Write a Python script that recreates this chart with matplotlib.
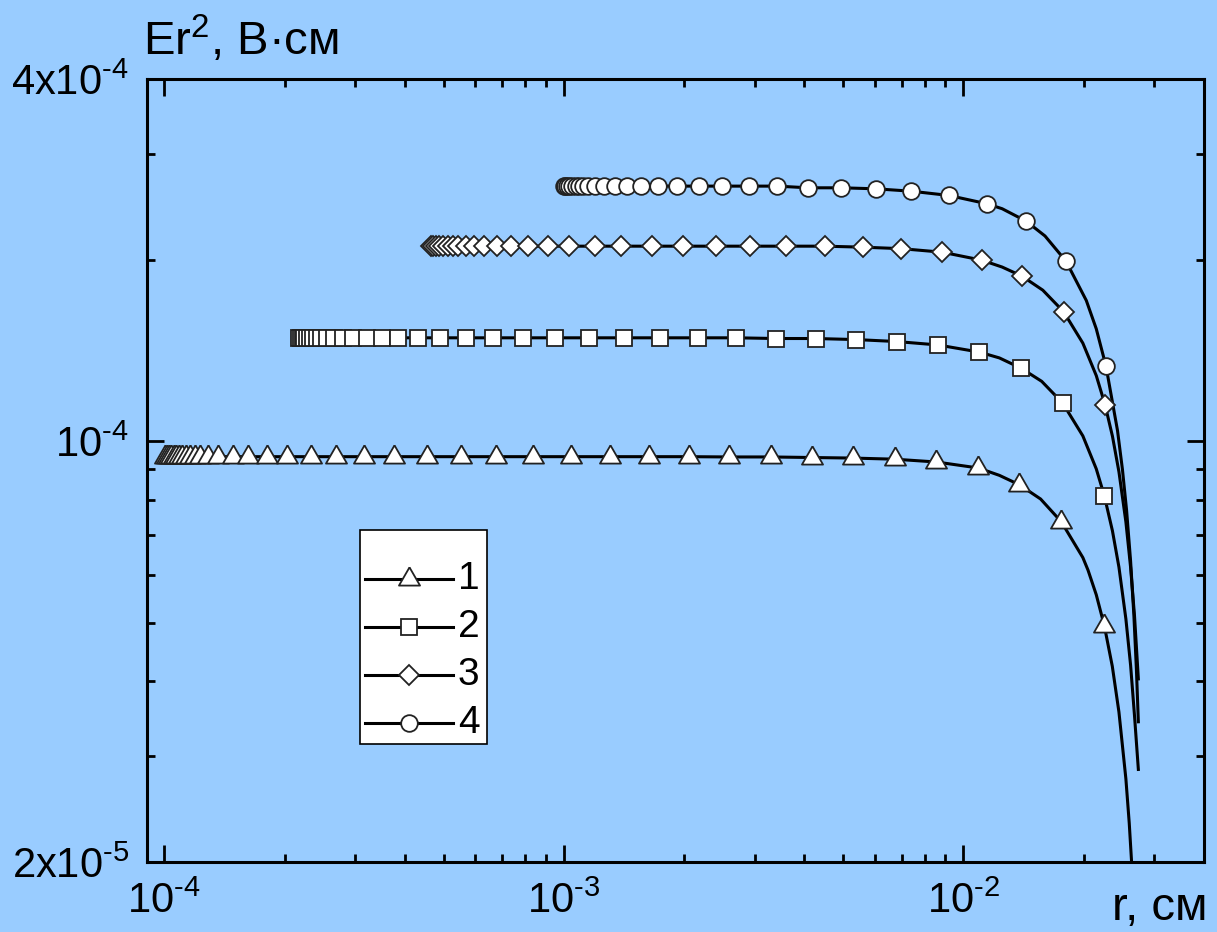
import matplotlib
matplotlib.use("Agg")
import matplotlib.pyplot as plt
from matplotlib.lines import Line2D
from matplotlib.patches import Rectangle
from matplotlib.ticker import FixedLocator, NullFormatter

plt.rcParams['font.family'] = ['Liberation Sans', 'DejaVu Sans']
plt.rcParams['mathtext.fontset'] = 'custom'
plt.rcParams['mathtext.rm'] = 'Liberation Sans'
plt.rcParams['mathtext.it'] = 'Liberation Sans:italic'
plt.rcParams['mathtext.default'] = 'regular'

# curve 1 (triangles)
r1 = [1.006e-4, 1.017e-4, 1.029e-4, 1.041e-4, 1.056e-4, 1.072e-4, 1.090e-4, 1.109e-4, 1.135e-4, 1.161e-4,
      1.195e-4, 1.230e-4, 1.288e-4, 1.365e-4, 1.488e-4, 1.622e-4, 1.810e-4, 2.028e-4, 2.330e-4, 2.692e-4,
      3.162e-4, 3.758e-4, 4.545e-4, 5.528e-4, 6.761e-4, 8.366e-4, 1.041e-3, 1.303e-3, 1.631e-3, 2.054e-3,
      2.586e-3, 3.292e-3, 4.169e-3, 5.278e-3, 6.722e-3, 8.560e-3, 1.090e-2, 1.380e-2, 1.758e-2, 2.252e-2]
e1 = [9.43e-5, 9.43e-5, 9.43e-5, 9.43e-5, 9.43e-5, 9.43e-5, 9.43e-5, 9.43e-5, 9.43e-5, 9.43e-5,
      9.43e-5, 9.43e-5, 9.43e-5, 9.43e-5, 9.43e-5, 9.43e-5, 9.43e-5, 9.43e-5, 9.43e-5, 9.43e-5,
      9.43e-5, 9.43e-5, 9.43e-5, 9.43e-5, 9.43e-5, 9.43e-5, 9.43e-5, 9.43e-5, 9.43e-5, 9.43e-5,
      9.42e-5, 9.42e-5, 9.40e-5, 9.38e-5, 9.34e-5, 9.24e-5, 9.03e-5, 8.47e-5, 7.35e-5, 4.94e-5]
r1_tail = [1.230e-2, 1.560e-2, 1.990e-2, 2.050e-2, 2.150e-2, 2.358e-2, 2.450e-2, 2.550e-2, 2.600e-2,
           2.650e-2, 2.700e-2]
e1_tail = [8.78e-5, 8.02e-5, 6.41e-5, 6.11e-5, 5.56e-5, 4.23e-5, 3.55e-5, 2.75e-5, 2.32e-5,
           1.88e-5, 1.40e-5]

# curve 2 (squares)
r2 = [2.167e-4, 2.192e-4, 2.218e-4, 2.243e-4, 2.279e-4, 2.314e-4, 2.358e-4, 2.404e-4, 2.469e-4, 2.556e-4,
      2.666e-4, 2.798e-4, 2.968e-4, 3.212e-4, 3.502e-4, 3.846e-4, 4.323e-4, 4.907e-4, 5.679e-4, 6.657e-4,
      7.898e-4, 9.495e-4, 1.155e-3, 1.413e-3, 1.738e-3, 2.167e-3, 2.703e-3, 3.388e-3, 4.266e-3, 5.392e-3,
      6.800e-3, 8.627e-3, 1.096e-2, 1.394e-2, 1.771e-2, 2.252e-2]
e2 = [1.486e-4, 1.486e-4, 1.486e-4, 1.486e-4, 1.486e-4, 1.486e-4, 1.486e-4, 1.486e-4, 1.486e-4, 1.486e-4,
      1.486e-4, 1.486e-4, 1.486e-4, 1.486e-4, 1.486e-4, 1.486e-4, 1.486e-4, 1.486e-4, 1.486e-4, 1.486e-4,
      1.486e-4, 1.486e-4, 1.486e-4, 1.486e-4, 1.486e-4, 1.486e-4, 1.486e-4, 1.482e-4, 1.482e-4, 1.476e-4,
      1.465e-4, 1.446e-4, 1.407e-4, 1.323e-4, 1.158e-4, 8.12e-5]
r2_tail = [1.230e-2, 1.570e-2, 1.990e-2, 2.150e-2, 2.360e-2, 2.450e-2, 2.550e-2, 2.620e-2, 2.680e-2, 2.740e-2]
e2_tail = [1.376e-4, 1.258e-4, 1.021e-4, 9.00e-5, 7.10e-5, 6.18e-5, 5.07e-5, 4.25e-5, 3.50e-5, 2.85e-5]

# curve 3 (diamonds)
r3 = [4.650e-4, 4.712e-4, 4.786e-4, 4.878e-4, 4.991e-4, 5.120e-4, 5.269e-4, 5.442e-4, 5.689e-4, 5.967e-4,
      6.320e-4, 6.789e-4, 7.370e-4, 8.144e-4, 9.137e-4, 1.029e-3, 1.195e-3, 1.388e-3, 1.657e-3, 1.988e-3,
      2.399e-3, 2.917e-3, 3.605e-3, 4.493e-3, 5.601e-3, 6.987e-3, 8.847e-3, 1.111e-2, 1.402e-2, 1.781e-2,
      2.261e-2]
e3 = [2.11e-4, 2.11e-4, 2.11e-4, 2.11e-4, 2.11e-4, 2.11e-4, 2.11e-4, 2.11e-4, 2.11e-4, 2.11e-4,
      2.11e-4, 2.11e-4, 2.11e-4, 2.11e-4, 2.11e-4, 2.11e-4, 2.11e-4, 2.11e-4, 2.11e-4, 2.11e-4,
      2.11e-4, 2.11e-4, 2.11e-4, 2.11e-4, 2.102e-4, 2.09e-4, 2.062e-4, 2.0e-4, 1.881e-4, 1.642e-4,
      1.151e-4]
r3_tail = [1.250e-2, 1.580e-2, 1.990e-2, 2.150e-2, 2.360e-2, 2.450e-2, 2.550e-2, 2.620e-2, 2.680e-2, 2.740e-2]
e3_tail = [1.948e-4, 1.783e-4, 1.456e-4, 1.286e-4, 1.020e-4, 8.90e-5, 7.35e-5, 6.18e-5, 5.13e-5, 4.03e-5]

# curve 4 (circles)
r4 = [1.000e-3, 1.009e-3, 1.019e-3, 1.032e-3, 1.047e-3, 1.070e-3, 1.090e-3, 1.116e-3, 1.148e-3, 1.195e-3,
      1.261e-3, 1.341e-3, 1.437e-3, 1.564e-3, 1.721e-3, 1.920e-3, 2.176e-3, 2.487e-3, 2.905e-3, 3.421e-3,
      4.081e-3, 4.946e-3, 6.026e-3, 7.401e-3, 9.190e-3, 1.144e-2, 1.435e-2, 1.806e-2, 2.274e-2]
e4 = [2.655e-4, 2.655e-4, 2.655e-4, 2.655e-4, 2.655e-4, 2.655e-4, 2.655e-4, 2.655e-4, 2.655e-4, 2.655e-4,
      2.655e-4, 2.655e-4, 2.655e-4, 2.655e-4, 2.655e-4, 2.655e-4, 2.655e-4, 2.655e-4, 2.655e-4, 2.655e-4,
      2.638e-4, 2.638e-4, 2.628e-4, 2.604e-4, 2.562e-4, 2.482e-4, 2.322e-4, 1.992e-4, 1.333e-4]
r4_tail = [1.250e-2, 1.600e-2, 2.030e-2, 2.150e-2, 2.430e-2, 2.500e-2, 2.560e-2, 2.620e-2, 2.670e-2,
           2.710e-2, 2.740e-2]
e4_tail = [2.435e-4, 2.194e-4, 1.714e-4, 1.538e-4, 1.042e-4, 8.98e-5, 7.69e-5, 6.33e-5, 5.15e-5,
           4.17e-5, 3.42e-5]

labels = ["1", "2", "3", "4"]
xticks = [1e-4, 1e-3, 1e-2]
xticklabels = ["$10^{\u20104}$", "$10^{\u20103}$", "$10^{\u20102}$"]
yticks = [2e-5, 1e-4, 4e-4]
yticklabels = ["$2x10^{\u20105}$", "$10^{\u20104}$", "$4x10^{\u20104}$"]
yminor = [3e-5, 4e-5, 5e-5, 6e-5, 7e-5, 8e-5, 9e-5, 2e-4, 3e-4]

bg = "#99CCFF"
W, H = 1217, 932
tri = [(0, 1.1547), (-1, -0.5774), (1, -0.5774), (0, 1.1547)]
styles = [dict(marker=tri, ms=17.5), dict(marker="s", ms=11.3), dict(marker="D", ms=10.5), dict(marker="o", ms=12)]
mk = dict(mfc="white", mec="#222222", mew=1.3)

fig = plt.figure(figsize=(W / 100, H / 100), dpi=100, facecolor=bg)
ax = fig.add_axes([147 / W, 1 - 862 / H, 1057 / W, 783 / H])
ax.set_facecolor(bg)

curves = [(r1, e1, r1_tail, e1_tail), (r2, e2, r2_tail, e2_tail),
          (r3, e3, r3_tail, e3_tail), (r4, e4, r4_tail, e4_tail)]
for (r, e, rt, et), st in zip(curves, styles):
    pts = sorted(zip(r + rt, e + et))
    ax.plot([p[0] for p in pts], [p[1] for p in pts], color="k", lw=2.2, zorder=2)
    ax.plot(r, e, ls="none", zorder=3, **mk, **st)

ax.set_xscale("log")
ax.set_yscale("log")
ax.set_xlim(9.05e-5, 4.0e-2)
ax.set_ylim(2e-5, 4e-4)

ax.set_xticks(xticks, xticklabels)
ax.xaxis.set_minor_locator(FixedLocator([k * d for d in (1e-4, 1e-3, 1e-2) for k in range(2, 10)]))
ax.xaxis.set_minor_formatter(NullFormatter())
ax.set_yticks(yticks, yticklabels)
ax.yaxis.set_minor_locator(FixedLocator(yminor))
ax.yaxis.set_minor_formatter(NullFormatter())

ax.tick_params(which="both", direction="in", top=True, right=True, width=2, labelsize=30)
ax.tick_params(which="major", length=12)
ax.tick_params(which="minor", length=6)
ax.tick_params(axis="x", which="major", pad=14)
ax.tick_params(axis="y", which="major", pad=13)
for s in ax.spines.values():
    s.set_linewidth(2.2)

fig.text(143 / W, 1 - 55 / H, r"Er$^{2}$, В·см", fontsize=34, ha="left", va="baseline")
fig.text(1112 / W, 1 - 920 / H, "r, см", fontsize=34, ha="left", va="baseline")

# legend box
fig.add_artist(Rectangle((360 / W, 1 - 744 / H), 127 / W, 214 / H, transform=fig.transFigure,
                         facecolor="white", edgecolor="k", lw=1.2, zorder=4))
for i, (lab, st) in enumerate(zip(labels, styles)):
    y = 1 - (579 + 48 * i) / H
    fig.add_artist(Line2D([365 / W, 409 / W, 453 / W], [y, y, y], transform=fig.transFigure, color="k",
                          lw=2.2, markevery=[1], zorder=5, **mk, **st))
    fig.text(458 / W, y, lab, fontsize=28, ha="left", va="center", zorder=5)

fig.savefig("out.png", dpi=100, facecolor=bg)
